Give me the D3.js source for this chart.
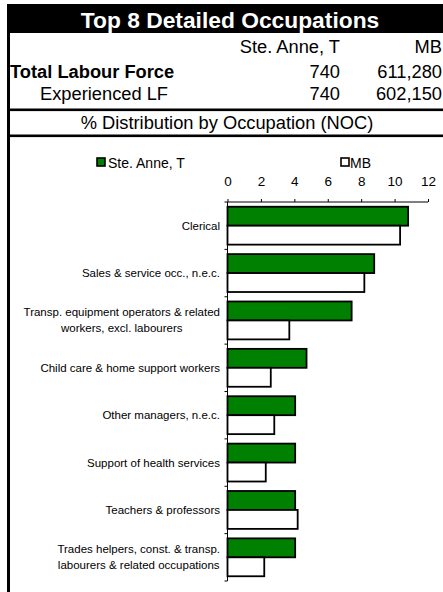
<!DOCTYPE html>
<html>
<head>
<meta charset="utf-8">
<script src="https://cdn.jsdelivr.net/npm/d3@7"></script>
<style>
  html, body { margin: 0; padding: 0; background: #fff; }
  svg { display: block; }
  text { font-family: "Liberation Sans", Arial, sans-serif; }
</style>
</head>
<body>
<svg id="chart" width="443" height="592"></svg>
<script>
// ---- data ----
const title = "Top 8 Detailed Occupations";
const columnNames = ["Ste. Anne, T", "MB"];
const rowLabels = ["Total Labour Force", "Experienced LF"];
const totalLabourForce = ["740", "611,280"];
const experiencedLF = ["740", "602,150"];
const subtitle = "% Distribution by Occupation (NOC)";
const seriesNames = ["Ste. Anne, T", "MB"];
const categories = [
  "Clerical",
  "Sales & service occ., n.e.c.",
  "Transp. equipment operators & related\nworkers, excl. labourers",
  "Child care & home support workers",
  "Other managers, n.e.c.",
  "Support of health services",
  "Teachers & professors",
  "Trades helpers, const. & transp.\nlabourers & related occupations"
];
const steAnneValues = [10.81, 8.78, 7.43, 4.73, 4.05, 4.05, 4.05, 4.05];
const mbValues = [10.33, 8.19, 3.70, 2.59, 2.80, 2.29, 4.20, 2.20];
const xTicks = [0, 2, 4, 6, 8, 10, 12];

// ---- drawing ----
const svg = d3.select("#chart");
const W = 443, H = 592;
const colors = ["#008000", "#ffffff"];

// header band
svg.append("rect").attr("x", 7).attr("y", 4).attr("width", W - 7).attr("height", 29).attr("fill", "#000");
svg.append("text").attr("x", 230).attr("y", 27.5).attr("text-anchor", "middle")
  .attr("fill", "#fff").attr("font-weight", "bold").attr("font-size", 22.8).text(title);

// left border
svg.append("rect").attr("x", 7).attr("y", 4).attr("width", 3).attr("height", H - 4).attr("fill", "#000");

// table rows
const colX = [340, 442];
columnNames.forEach((c, i) => {
  svg.append("text").attr("x", colX[i]).attr("y", 53).attr("text-anchor", "end")
    .attr("font-size", 18.3).attr("fill", "#000").text(c);
});
svg.append("text").attr("x", 10).attr("y", 78).attr("font-weight", "bold")
  .attr("font-size", 18.3).text(rowLabels[0]);
totalLabourForce.forEach((v, i) => {
  svg.append("text").attr("x", colX[i]).attr("y", 78).attr("text-anchor", "end")
    .attr("font-size", 18.3).text(v);
});
svg.append("text").attr("x", 40).attr("y", 100)
  .attr("font-size", 18.3).text(rowLabels[1]);
experiencedLF.forEach((v, i) => {
  svg.append("text").attr("x", colX[i]).attr("y", 100).attr("text-anchor", "end")
    .attr("font-size", 18.3).text(v);
});
svg.append("rect").attr("x", 7).attr("y", 108.5).attr("width", W - 7).attr("height", 2.6).attr("fill", "#000");
svg.append("text").attr("x", 227).attr("y", 129).attr("text-anchor", "middle")
  .attr("font-size", 18.3).text(subtitle);
svg.append("rect").attr("x", 7).attr("y", 134.5).attr("width", W - 7).attr("height", 2.6).attr("fill", "#000");

// scales
const x = d3.scaleLinear().domain([0, 12]).range([227.5, 428]);
const y = d3.scaleBand().domain(categories).range([202, 581]).paddingInner(0.2).paddingOuter(0.1);
const ySub = d3.scaleBand().domain(seriesNames).range([0, y.bandwidth()]);

// legend
const legendPos = [{sx: 97, tx: 108}, {sx: 341, tx: 350}];
seriesNames.forEach((s, i) => {
  svg.append("rect").attr("x", legendPos[i].sx).attr("y", 158).attr("width", 8).attr("height", 8)
    .attr("fill", colors[i]).attr("stroke", "#000").attr("stroke-width", 1.6);
  svg.append("text").attr("x", legendPos[i].tx).attr("y", 167.5).attr("font-size", 14).text(s);
});

// top axis
const xAxis = d3.axisTop(x).tickValues(xTicks).tickSize(3).tickPadding(13).tickFormat(d3.format("d"));
const gx = svg.append("g").attr("transform", "translate(0,202)").call(xAxis);
gx.select(".domain").attr("stroke", "#000").attr("d", `M${x(0)},0H${x(12)}`);
gx.selectAll(".tick line").attr("stroke", "#000");
gx.selectAll(".tick text").attr("font-size", 13.5).attr("fill", "#000")
  .attr("font-family", "'Liberation Sans', Arial, sans-serif");

// left axis (category ticks at band boundaries)
const step = y.step();
const y0 = y(categories[0]) - step * y.paddingOuter();
const boundaries = d3.range(categories.length + 1).map(i => y0 + i * step);
svg.append("line").attr("x1", x(0)).attr("x2", x(0)).attr("y1", 202).attr("y2", 581)
  .attr("stroke", "#000").attr("stroke-width", 1);
svg.selectAll(".cattick").data(boundaries).enter().append("line")
  .attr("x1", x(0) - 3).attr("x2", x(0)).attr("y1", d => d).attr("y2", d => d)
  .attr("stroke", "#000");

// bars
const rows = categories.map((c, i) => ({cat: c, vals: [steAnneValues[i], mbValues[i]]}));
const g = svg.selectAll(".grp").data(rows).enter().append("g")
  .attr("transform", d => `translate(0,${y(d.cat)})`);
g.selectAll("rect").data(d => d.vals.map((v, i) => ({v, s: seriesNames[i], i}))).enter().append("rect")
  .attr("x", x(0)).attr("y", d => ySub(d.s)).attr("width", d => x(d.v) - x(0))
  .attr("height", ySub.bandwidth()).attr("fill", d => colors[d.i])
  .attr("stroke", "#000").attr("stroke-width", 1.8);

// category labels
const labelRight = 220;
categories.forEach(c => {
  const lines = c.split("\n");
  const cy = y(c) + y.bandwidth() / 2;
  const lh = 16;
  const t = svg.append("g");
  const texts = lines.map((ln, k) => t.append("text")
    .attr("y", cy + (k - (lines.length - 1) / 2) * lh + 4)
    .attr("font-size", 11.5).attr("fill", "#000").attr("text-anchor", "middle").text(ln));
  const maxW = d3.max(texts, tx => tx.node().getComputedTextLength());
  texts.forEach(tx => tx.attr("x", labelRight - maxW / 2));
});
</script>
</body>
</html>
